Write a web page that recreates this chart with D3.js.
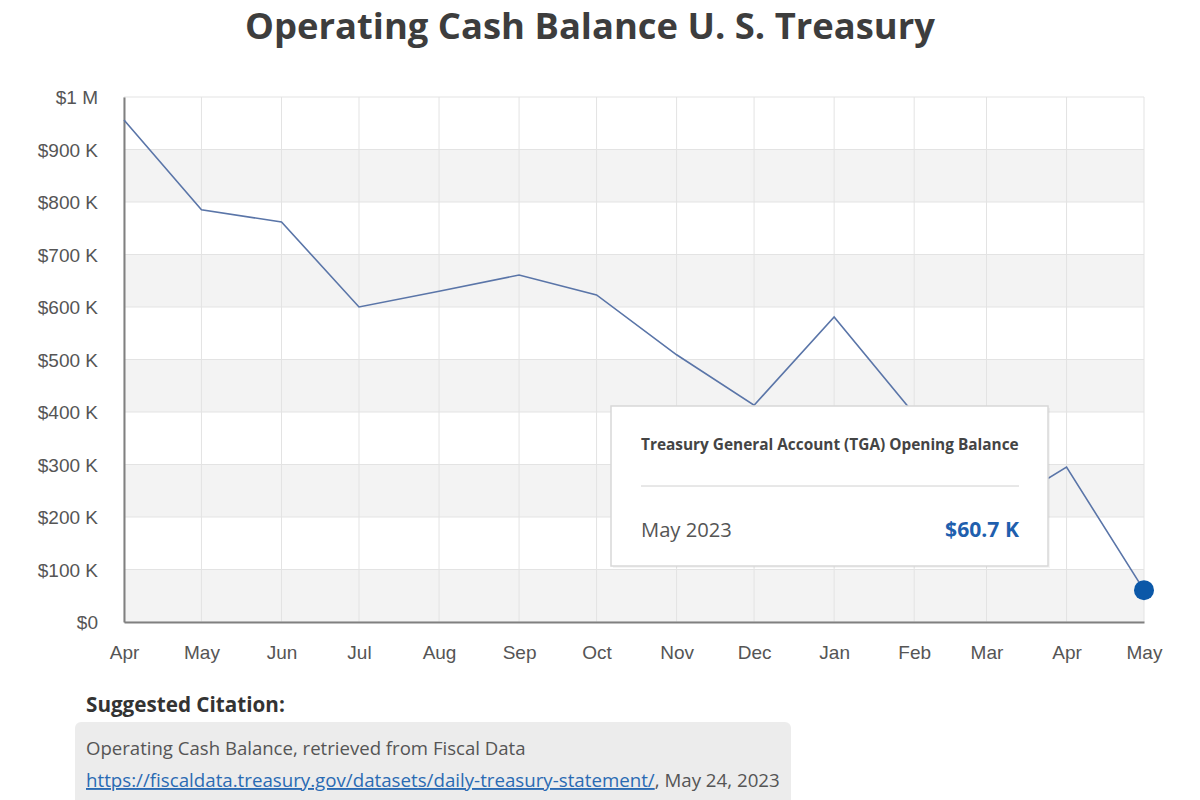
<!DOCTYPE html>
<html>
<head>
<meta charset="utf-8">
<script src="https://cdn.jsdelivr.net/npm/d3@7"></script>
<style>
  body { margin: 0; background: #fff; }
  svg { display: block; }
</style>
</head>
<body>
<div id="chart"></div>
<script>
// Monthly opening balances (first of month)
const months = ['2022-04-01', '2022-05-01', '2022-06-01', '2022-07-01', '2022-08-01', '2022-09-01',
    '2022-10-01', '2022-11-01', '2022-12-01', '2023-01-01', '2023-02-01', '2023-03-01',
    '2023-04-01', '2023-05-01'];
const balances = [956, 785, 762, 600, 630, 661, 623, 509, 413, 581, 396, 202, 295, 60.7];
const yTicks = [0, 100, 200, 300, 400, 500, 600, 700, 800, 900, 1000];
const yTickLabels = ['$0', '$100 K', '$200 K', '$300 K', '$400 K', '$500 K', '$600 K',
    '$700 K', '$800 K', '$900 K', '$1 M'];

const parse = d3.timeParse('%Y-%m-%d');
const data = months.map((m, i) => ({ date: parse(m), value: balances[i] }));

const W = 1200, H = 800;
const margin = { top: 97, right: 56, bottom: 178, left: 124 };
const width = W - margin.left - margin.right;
const height = H - margin.top - margin.bottom;

const svg = d3.select('#chart').append('svg')
    .attr('width', W)
    .attr('height', H);

// fit text to a target width by adjusting font size
function fit(sel, target) {
    const fs = parseFloat(sel.attr('font-size'));
    const len = sel.node().getComputedTextLength();
    sel.attr('font-size', fs * target / len);
}

// title
svg.append('text')
    .attr('x', 590).attr('y', 39)
    .attr('text-anchor', 'middle')
    .attr('font-family', 'Open Sans, sans-serif')
    .attr('font-weight', 700)
    .attr('font-size', 38)
    .attr('fill', '#3d3d3d')
    .text('Operating Cash Balance U. S. Treasury')
    .call(fit, 690);

const g = svg.append('g')
    .attr('transform', 'translate(' + margin.left + ',' + margin.top + ')');

const xScale = d3.scaleTime()
    .domain(d3.extent(data, d => d.date))
    .range([0, width]);
const yScale = d3.scaleLinear().domain([0, 1000]).range([height, 0]);

// alternating bands
const bands = yTicks.slice(0, -1).filter((d, i) => i % 2 === 0);
g.selectAll('.band').data(bands).enter().append('rect')
    .attr('class', 'band')
    .attr('x', 0)
    .attr('width', width)
    .attr('y', d => yScale(d + 100))
    .attr('height', d => yScale(d) - yScale(d + 100))
    .attr('fill', '#f3f3f3');

// gridlines
g.selectAll('.hgrid').data(yTicks).enter().append('line')
    .attr('x1', 0).attr('x2', width)
    .attr('y1', d => yScale(d)).attr('y2', d => yScale(d))
    .attr('stroke', '#e3e3e3').attr('stroke-width', 1);
g.selectAll('.vgrid').data(data).enter().append('line')
    .attr('x1', d => xScale(d.date)).attr('x2', d => xScale(d.date))
    .attr('y1', 0).attr('y2', height)
    .attr('stroke', '#e3e3e3').attr('stroke-width', 1);

// axes
const xAxis = g.append('g')
    .attr('transform', 'translate(0,' + height + ')')
    .call(d3.axisBottom(xScale)
        .tickValues(data.map(d => d.date))
        .tickFormat(d3.timeFormat('%b'))
        .tickSize(0).tickPadding(23));
const yAxis = g.append('g')
    .call(d3.axisLeft(yScale)
        .tickValues(yTicks)
        .tickFormat((d, i) => yTickLabels[i])
        .tickSize(0).tickPadding(26));
[xAxis, yAxis].forEach(a => {
    a.select('.domain').attr('stroke', '#808080').attr('stroke-width', 2);
    a.selectAll('text')
        .attr('font-family', 'Liberation Sans, Arial, sans-serif')
        .attr('font-size', 19)
        .attr('fill', '#555');
});
yAxis.selectAll('text').attr('dy', '0.35em');
xAxis.selectAll('text').attr('dy', '0.75em');

// line
const line = d3.line().x(d => xScale(d.date)).y(d => yScale(d.value));
g.append('path').datum(data)
    .attr('d', line)
    .attr('fill', 'none')
    .attr('stroke', '#5a75a8')
    .attr('stroke-width', 1.6);

// highlighted last point
const last = data[data.length - 1];
g.append('circle')
    .attr('cx', xScale(last.date))
    .attr('cy', yScale(last.value))
    .attr('r', 10)
    .attr('fill', '#0b58a8');

// tooltip
const tip = svg.append('g').attr('transform', 'translate(611,406)');
tip.append('rect')
    .attr('x', 2).attr('y', 2).attr('width', 437).attr('height', 160)
    .attr('fill', 'rgba(0,0,0,0.04)');
tip.append('rect')
    .attr('width', 437).attr('height', 160)
    .attr('fill', '#fff')
    .attr('stroke', '#d8d8d8').attr('stroke-width', 1.5);
tip.append('text')
    .attr('x', 30).attr('y', 44)
    .attr('font-family', 'Open Sans, sans-serif')
    .attr('font-weight', 700)
    .attr('font-size', 16)
    .attr('fill', '#444')
    .text('Treasury General Account (TGA) Opening Balance')
    .call(fit, 378);
tip.append('line')
    .attr('x1', 30).attr('x2', 408).attr('y1', 80).attr('y2', 80)
    .attr('stroke', '#d0d0d0');
tip.append('text')
    .attr('x', 30).attr('y', 131)
    .attr('font-family', 'Open Sans, sans-serif')
    .attr('font-size', 20)
    .attr('fill', '#555')
    .text(d3.timeFormat('%b %Y')(last.date))
    .call(fit, 91);
tip.append('text')
    .attr('x', 408).attr('y', 131)
    .attr('text-anchor', 'end')
    .attr('font-family', 'Open Sans, sans-serif')
    .attr('font-weight', 700)
    .attr('font-size', 20)
    .attr('fill', '#1f5fae')
    .text('$' + last.value + ' K')
    .call(fit, 74);

// citation
svg.append('text')
    .attr('x', 86).attr('y', 712)
    .attr('font-family', 'Open Sans, sans-serif')
    .attr('font-weight', 700)
    .attr('font-size', 20)
    .attr('fill', '#333')
    .text('Suggested Citation:')
    .call(fit, 199);
svg.append('rect')
    .attr('x', 75).attr('y', 722).attr('width', 716).attr('height', 100)
    .attr('rx', 6)
    .attr('fill', '#ececec');
svg.append('text')
    .attr('x', 86).attr('y', 755)
    .attr('font-family', 'Open Sans, sans-serif')
    .attr('font-size', 18)
    .attr('fill', '#555')
    .text('Operating Cash Balance, retrieved from Fiscal Data')
    .call(fit, 440);
const cite = svg.append('text')
    .attr('x', 86).attr('y', 787)
    .attr('font-family', 'Open Sans, sans-serif')
    .attr('font-size', 18)
    .attr('fill', '#555');
cite.append('tspan')
    .attr('fill', '#2a6ab3')
    .attr('text-decoration', 'underline')
    .text('https://fiscaldata.treasury.gov/datasets/daily-treasury-statement/');
cite.append('tspan').text(', May 24, 2023');
cite.call(fit, 694);
</script>
</body>
</html>
